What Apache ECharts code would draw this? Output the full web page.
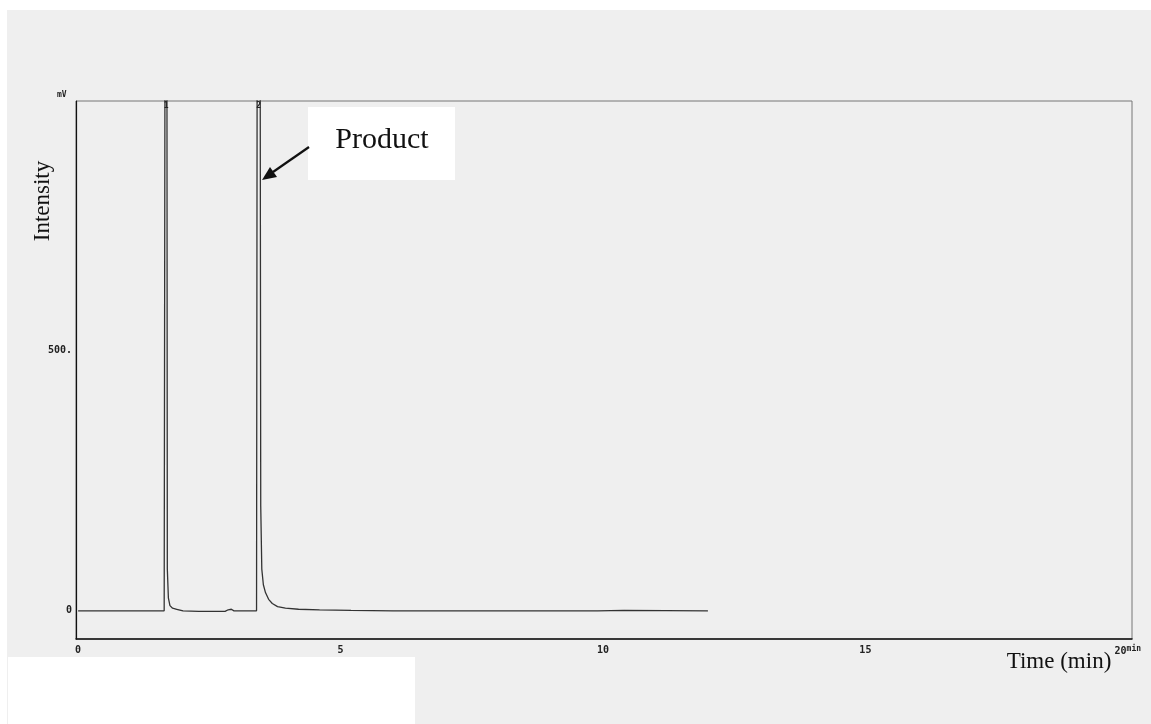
<!DOCTYPE html>
<html>
<head>
<meta charset="utf-8">
<style>
  html, body { margin: 0; padding: 0; background: #fff; }
  #chart { width: 1151px; height: 724px; }
</style>
<script src="https://cdn.jsdelivr.net/npm/echarts@6/dist/echarts.min.js"></script>
</head>
<body>
<div id="chart"></div>
<script>
// chromatogram trace (time in min, intensity in mV)
const times = [0, 1.64, 1.66, 1.675, 1.69, 1.70, 1.72, 1.75, 1.80, 1.88, 2.0, 2.3, 2.8, 2.86, 2.92, 2.97,
  3.40, 3.415, 3.44, 3.465, 3.48, 3.50, 3.53, 3.57, 3.63, 3.70, 3.80, 3.95, 4.2, 4.6, 5.2, 6.0, 8.0, 9.9, 10.4, 12.0];
const intensity = [0, 0, 1400, 1500, 1400, 80, 25, 10, 5, 3, 0, -1, -1, 2, 3, 0,
  0, 1400, 1500, 1400, 200, 80, 50, 35, 22, 14, 8, 5, 3, 2, 1, 0, 0, 0, 1, 0];
const xTicks = [0, 5, 10, 15, 20];
const yTicks = [0, 500];
const peaks = [{ name: '1', t: 1.68 }, { name: '2', t: 3.44 }];

const Y_MIN = -54, Y_MAX = 977;
const tickFont = { fontFamily: 'DejaVu Sans Mono', fontWeight: 'bold', fontSize: 10, color: '#222' };

const chart = echarts.init(document.getElementById('chart'));

const option = {
  backgroundColor: '#fff',
  animation: false,
  grid: { left: 76, right: 19, top: 101, bottom: 85, show: true, borderColor: '#777', borderWidth: 1 },
  xAxis: {
    type: 'value',
    min: -0.04,
    max: 20.08,
    axisLine: { show: true, onZero: false, lineStyle: { color: '#111', width: 1.5 } },
    axisTick: { show: false },
    splitLine: { show: false },
    axisLabel: Object.assign({
      customValues: xTicks,
      margin: 6,
      formatter: v => v === 20 ? '20{u|min}' : String(v),
      rich: { u: { fontFamily: 'DejaVu Sans Mono', fontSize: 8, fontWeight: 'bold', color: '#222', verticalAlign: 'top', padding: [0, 0, 4, 0] } }
    }, tickFont)
  },
  yAxis: {
    type: 'value',
    min: Y_MIN,
    max: Y_MAX,
    axisLine: { show: true, onZero: false, lineStyle: { color: '#111', width: 1.2 } },
    axisTick: { show: false },
    splitLine: { show: false },
    axisLabel: Object.assign({
      customValues: yTicks,
      margin: 4,
      formatter: v => v === 500 ? '500.' : String(v)
    }, tickFont)
  },
  series: [{
    type: 'line',
    data: times.map((t, i) => [t, intensity[i]]),
    showSymbol: false,
    clip: true,
    lineStyle: { color: '#333', width: 1.3 },
    markPoint: {
      symbol: 'circle',
      symbolSize: 0,
      label: { show: true, formatter: p => p.name, position: 'bottom', distance: 1, fontFamily: 'DejaVu Sans Mono', fontWeight: 'bold', fontSize: 8, color: '#222' },
      data: peaks.map(p => ({ name: p.name, coord: [p.t, Y_MAX] }))
    }
  }],
  graphic: [
    // scanned page background
    { type: 'rect', z: -10, shape: { x: 7, y: 10, width: 1144, height: 714 }, style: { fill: '#efefef' } },
    { type: 'rect', z: 100, shape: { x: 8, y: 657, width: 407, height: 67 }, style: { fill: '#fff' } },
    { type: 'text', z: 100, left: 57, top: 91, style: { text: 'mV', font: 'bold 8px "DejaVu Sans Mono"', fill: '#222' } },
    // axis titles
    { type: 'text', z: 100, x: 43, y: 201, rotation: Math.PI / 2,
      style: { text: 'Intensity', font: '23px "Liberation Serif"', fill: '#111', align: 'center', verticalAlign: 'middle' } },
    { type: 'text', z: 100, x: 1059, y: 662,
      style: { text: 'Time (min)', font: '23px "Liberation Serif"', fill: '#111', align: 'center', verticalAlign: 'middle' } },
    // Product annotation
    { type: 'rect', z: 100, shape: { x: 308, y: 107, width: 147, height: 73 }, style: { fill: '#fff' } },
    { type: 'text', z: 101, x: 382, y: 140,
      style: { text: 'Product', font: '30px "Liberation Serif"', fill: '#111', align: 'center', verticalAlign: 'middle' } },
    { type: 'line', z: 101, shape: { x1: 309, y1: 147, x2: 273, y2: 172 }, style: { stroke: '#111', lineWidth: 2.2 } },
    { type: 'polygon', z: 101, shape: { points: [[262, 180], [277, 177], [270, 167]] }, style: { fill: '#111' } }
  ]
};

chart.setOption(option);
</script>
</body>
</html>
